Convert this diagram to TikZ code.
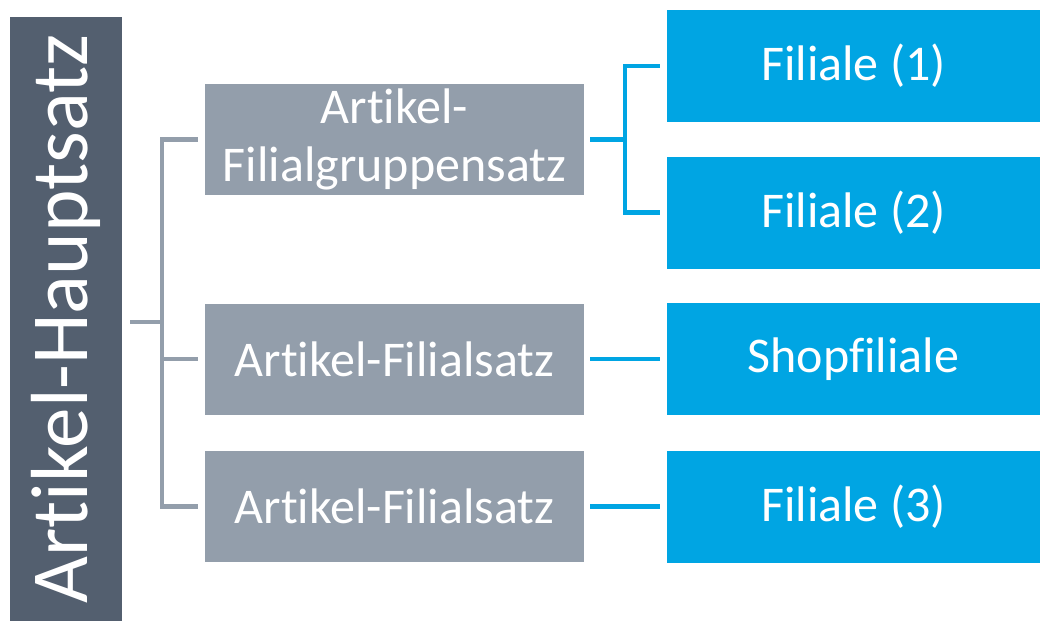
\documentclass[tikz,border=0pt]{standalone}
\usepackage{fontspec}
\setmainfont{Carlito}[Ligatures=NoCommon]
\definecolor{hauptgrau}{HTML}{535F6F}
\definecolor{satzgrau}{HTML}{939EAB}
\definecolor{filialblau}{HTML}{00A5E3}

\begin{document}
\begin{tikzpicture}[x=1pt,y=-1pt,
  haupt/.style={fill=hauptgrau, text=white, rotate=90, minimum width=604pt, minimum height=112pt, inner sep=0pt, font=\fontsize{81}{90}\selectfont},
  satz/.style={fill=satzgrau, text=white, minimum width=379pt, minimum height=111pt, inner sep=0pt, align=center, font=\fontsize{50}{58}\selectfont},
  filiale/.style={fill=filialblau, text=white, minimum width=373pt, minimum height=112pt, inner sep=0pt, font=\fontsize{50}{58}\selectfont},
  grauline/.style={draw=satzgrau, line width=4.5pt},
  blauline/.style={draw=filialblau, line width=4.5pt}]
\useasboundingbox (0,0) rectangle (1040,621);
\node[haupt] (haupt) at (66,319) {Artikel-Hauptsatz};
\node[satz] (gruppe) at (394.5,139.5) {Artikel-\\Filialgruppensatz};
\node[satz] (satza) at (394.5,359) {Artikel-Filialsatz};
\node[satz] (satzb) at (394.5,506.5) {Artikel-Filialsatz};
\node[filiale] (fil1) at (853.5,66) {Filiale (1)};
\node[filiale] (fil2) at (853.5,212.5) {Filiale (2)};
\node[filiale] (shop) at (853.5,359) {Shopfiliale};
\node[filiale] (fil3) at (853.5,506.5) {Filiale (3)};

% Verbindungen grau
\coordinate (gj) at (162,322);
\draw[grauline, shorten <=8pt] (haupt.south |- gj) -- (gj);
\draw[grauline, shorten <=7pt] (gruppe.west) -| (gj);
\draw[grauline, shorten <=7pt] (satzb.west) -| (gj);
\draw[grauline, shorten <=7pt] (satza.west) -- (gj |- satza.west);

% Verbindungen blau
\coordinate (bj) at (625,139.5);
\draw[blauline, shorten <=6pt] (gruppe.east) -- (bj);
\draw[blauline, shorten <=7pt] (fil1.west) -| (bj);
\draw[blauline, shorten <=7pt] (fil2.west) -| (bj);
\draw[blauline, shorten <=6pt, shorten >=7pt] (satza.east) -- (shop.west);
\draw[blauline, shorten <=6pt, shorten >=7pt] (satzb.east) -- (fil3.west);
\end{tikzpicture}
\end{document}
